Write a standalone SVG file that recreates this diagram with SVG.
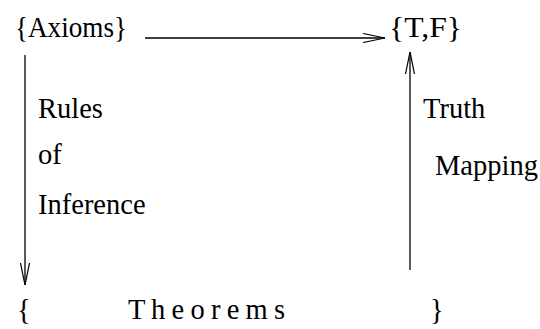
<svg xmlns="http://www.w3.org/2000/svg" width="540" height="329" viewBox="0 0 540 329">
<defs>
<style>
text{font-family:"Liberation Serif","Times New Roman",serif;font-size:28.5px;fill:#000}
.c{stroke:#000;stroke-width:1.3;fill:none}
</style>
<marker id="ah" viewBox="0 0 22 10" refX="22" refY="5" markerWidth="22" markerHeight="10" markerUnits="userSpaceOnUse" orient="auto">
<path d="M0,0.5 L22,5 L0,9.5" fill="none" stroke="#000" stroke-width="1.2"/>
</marker>
</defs>
<rect width="540" height="329" fill="#fff"/>
<g id="axioms"><text x="15" y="37" textLength="112" lengthAdjust="spacingAndGlyphs">{Axioms}</text></g>
<g id="tf"><text x="389" y="37" textLength="73" lengthAdjust="spacingAndGlyphs">{T,F}</text></g>
<g id="theorems"><text x="17" y="319">{</text><text x="128" y="319" textLength="157" lengthAdjust="spacing">T h e o r e m s</text><text x="430" y="319">}</text></g>
<g id="labels">
<text x="38" y="118">Rules</text>
<text x="38" y="164">of</text>
<text x="38" y="214">Inference</text>
<text x="423" y="118">Truth</text>
<text x="435" y="175">Mapping</text>
</g>
<g id="connectors">
<line class="c" x1="145" y1="38" x2="385" y2="38" marker-end="url(#ah)"/>
<line class="c" x1="25" y1="55" x2="25" y2="285" marker-end="url(#ah)"/>
<line class="c" x1="410" y1="270" x2="410" y2="52" marker-end="url(#ah)"/>
</g>
</svg>
